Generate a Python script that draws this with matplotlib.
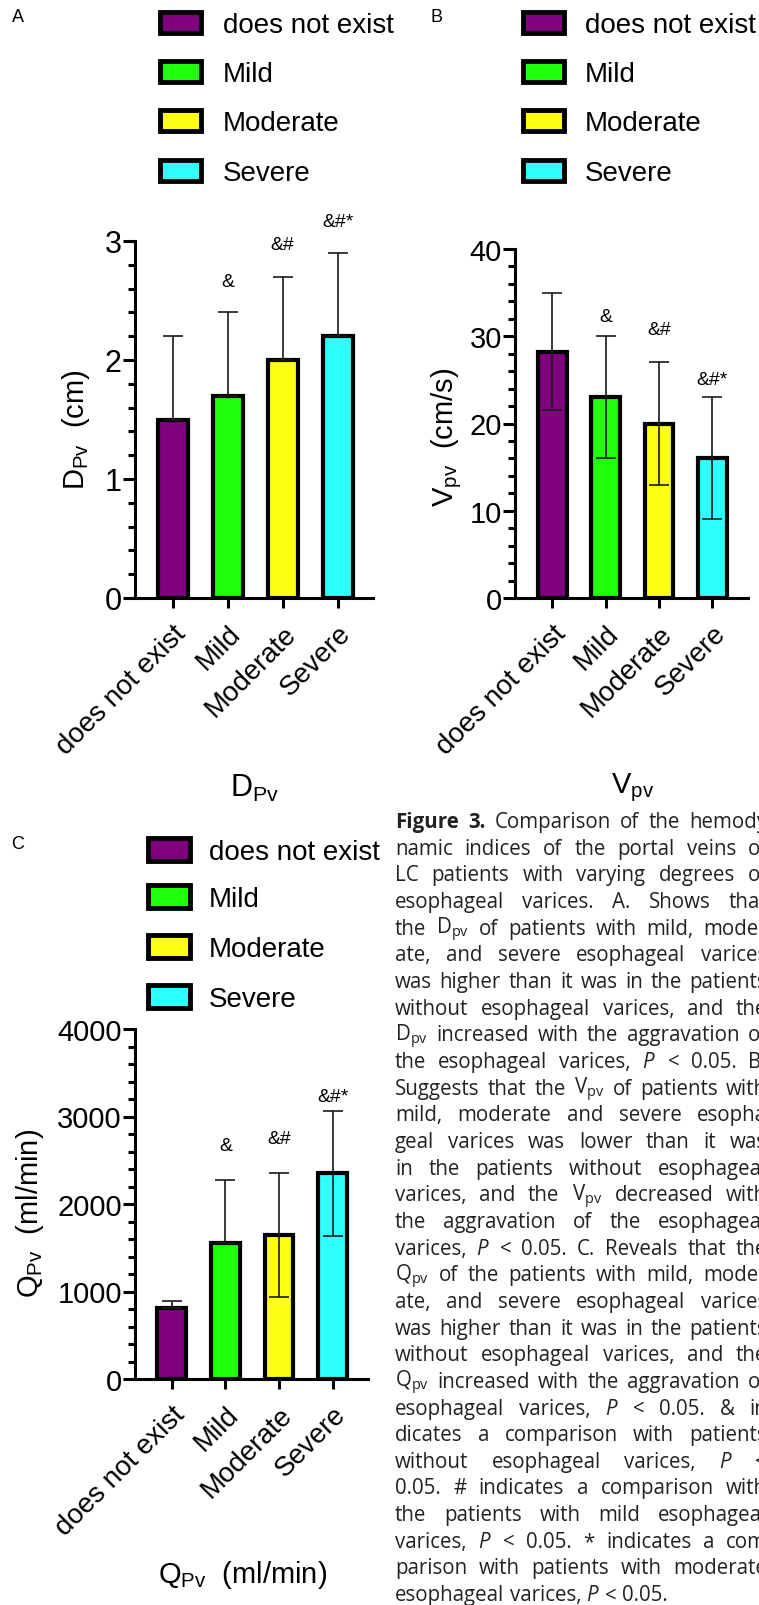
import numpy as np
import matplotlib
matplotlib.use("Agg")
import matplotlib.pyplot as plt
from matplotlib.patches import Rectangle
from matplotlib.ticker import MultipleLocator

W, H, DPI = 759, 1606, 100

plt.rcParams["font.family"] = ["Liberation Sans", "DejaVu Sans"]
plt.rcParams["mathtext.fontset"] = "custom"
plt.rcParams["mathtext.it"] = "Open Sans:italic"
plt.rcParams["mathtext.rm"] = "Open Sans"

# ---- data ----
categories = ["does not exist", "Mild", "Moderate", "Severe"]
bar_colors = ["#800080", "#22ff0e", "#ffff12", "#30ffff"]

# A: portal vein diameter (cm)
dpv_mean = [1.5, 1.7, 2.0, 2.2]
dpv_err_up = [0.7, 0.7, 0.7, 0.7]
dpv_err_down = [0, 0, 0, 0]
dpv_marks = ["", "&", "&#", "&#*"]
dpv_mark_y = [0, 2.66, 2.97, 3.16]

# B: portal vein velocity (cm/s)
vpv_mean = [28.2, 23.0, 20.0, 16.0]
vpv_err_up = [6.7, 7.0, 7.0, 7.0]
vpv_err_down = [6.7, 7.0, 7.0, 7.0]
vpv_marks = ["", "&", "&#", "&#*"]
vpv_mark_y = [0, 32.3, 30.8, 25.1]

# C: portal vein flow (ml/min)
qpv_mean = [810, 1550, 1650, 2350]
qpv_err_up = [80, 720, 710, 710]
qpv_err_down = [0, 0, 710, 710]
qpv_marks = ["", "&", "&#", "&#*"]
qpv_mark_y = [0, 2663, 2743, 3223]

caption_lines = [
    "Figure 3. Comparison of the hemody",
    "namic indices of the portal veins of",
    "LC patients with varying degrees of",
    "esophageal varices. A. Shows that",
    r"the D$_{\mathregular{pv}}$ of patients with mild, moder",
    "ate, and severe esophageal varices",
    "was higher than it was in the patients",
    "without esophageal varices, and the",
    r"D$_{\mathregular{pv}}$ increased with the aggravation of",
    r"the esophageal varices, $\mathit{P}$ < 0.05. B.",
    r"Suggests that the V$_{\mathregular{pv}}$ of patients with",
    "mild, moderate and severe esopha",
    "geal varices was lower than it was",
    "in the patients without esophageal",
    r"varices, and the V$_{\mathregular{pv}}$ decreased with",
    "the aggravation of the esophageal",
    r"varices, $\mathit{P}$ < 0.05. C. Reveals that the",
    r"Q$_{\mathregular{pv}}$ of the patients with mild, moder",
    "ate, and severe esophageal varices",
    "was higher than it was in the patients",
    "without esophageal varices, and the",
    r"Q$_{\mathregular{pv}}$ increased with the aggravation of",
    r"esophageal varices, $\mathit{P}$ < 0.05. & in",
    "dicates a comparison with patients",
    r"without esophageal varices, $\mathit{P}$ <",
    "0.05. # indicates a comparison with",
    "the patients with mild esophageal",
    r"varices, $\mathit{P}$ < 0.05. * indicates a com",
    "parison with patients with moderate",
    r"esophageal varices, $\mathit{P}$ < 0.05.",
]

fig = plt.figure(figsize=(W / DPI, H / DPI), dpi=DPI)


def fx(px):
    return px / W


def fy(py):
    return 1 - py / H


def axes_px(left, top, right, bottom):
    return fig.add_axes([fx(left), fy(bottom), (right - left) / W, (bottom - top) / H])


def draw_panel(ax, means, up, down, marks, mark_y, ymax, major, minor, xlim, tick_fs):
    x = np.arange(len(categories))
    ax.bar(x, means, width=0.54, color=bar_colors, edgecolor="black", linewidth=3.0, zorder=2)
    ax.errorbar(x, means, yerr=[down, up], fmt="none", ecolor="#1a1a1a",
                elinewidth=1.2, capsize=7.5, capthick=1.2, zorder=3)
    for xi, s, yy in zip(x, marks, mark_y):
        if s:
            ax.text(xi, yy, s, ha="center", va="center", fontsize=14, clip_on=False)
    ax.set_xlim(*xlim)
    ax.set_ylim(0, ymax)
    ax.yaxis.set_major_locator(MultipleLocator(major))
    ax.yaxis.set_minor_locator(MultipleLocator(minor))
    ax.set_xticks(x)
    ax.set_xticklabels(categories, rotation=45, ha="right", va="top",
                       rotation_mode="anchor", fontsize=20)
    for side in ["top", "right"]:
        ax.spines[side].set_visible(False)
    for side in ["left", "bottom"]:
        ax.spines[side].set_linewidth(2.2)
    ax.tick_params(axis="y", which="major", length=8.5, width=2.2, labelsize=tick_fs, pad=1)
    ax.tick_params(axis="y", which="minor", length=5, width=2.2)
    ax.tick_params(axis="x", length=7, width=2.2, pad=9)
    ax.patch.set_visible(False)


def draw_legend(box_left, text_left, row_ys, box_w, box_h, fs):
    for cat, col, yy in zip(categories, bar_colors, row_ys):
        fig.add_artist(Rectangle((fx(box_left), fy(yy + box_h / 2)), box_w / W, box_h / H,
                                 transform=fig.transFigure, facecolor=col,
                                 edgecolor="black", linewidth=3.5))
        fig.text(fx(text_left), fy(yy + 0.358 * fs * DPI / 72), cat,
                 ha="left", va="baseline", fontsize=fs)


# panel A
axA = axes_px(135, 242, 373, 599)
draw_panel(axA, dpv_mean, dpv_err_up, dpv_err_down, dpv_marks, dpv_mark_y,
           3, 1, 0.2, (-0.684, 3.64), 22)
fig.text(fx(76), fy(430), r"D$_{\mathregular{Pv}}$  (cm)", rotation=90,
         ha="center", va="center", fontsize=21)
fig.text(fx(255), fy(797), r"D$_{\mathregular{Pv}}$", ha="center", va="baseline", fontsize=22)

# panel B
axB = axes_px(515, 250, 748, 599)
draw_panel(axB, vpv_mean, vpv_err_up, vpv_err_down, vpv_marks, vpv_mark_y,
           40, 10, 2, (-0.70, 3.67), 21)
fig.text(fx(447), fy(437), r"V$_{\mathregular{pv}}$  (cm/s)", rotation=90,
         ha="center", va="center", fontsize=21)
fig.text(fx(633), fy(793), r"V$_{\mathregular{pv}}$", ha="center", va="baseline", fontsize=21)

# panel C
axC = axes_px(135, 1030, 368, 1380)
draw_panel(axC, qpv_mean, qpv_err_up, qpv_err_down, qpv_marks, qpv_mark_y,
           4000, 1000, 200, (-0.685, 3.66), 21)
fig.text(fx(30), fy(1213), r"Q$_{\mathregular{Pv}}$  (ml/min)", rotation=90,
         ha="center", va="center", fontsize=21)
fig.text(fx(243), fy(1583), r"Q$_{\mathregular{Pv}}$  (ml/min)", ha="center", va="baseline", fontsize=21)

# legends and panel letters
draw_legend(160, 223, [23, 72, 121, 171], 41, 21, 20)
draw_legend(523, 585, [23, 72, 121, 171], 41, 21, 20)
draw_legend(148, 209, [850, 897, 947, 997], 42, 23, 20)
fig.text(fx(18), fy(17), "A", ha="center", va="center", fontsize=13)
fig.text(fx(436), fy(17), "B", ha="center", va="center", fontsize=13)
fig.text(fx(18), fy(845), "C", ha="center", va="center", fontsize=13)

# caption, justified and running off the right edge like the source page
renderer = fig.canvas.get_renderer()
cap_fs = 14.8
cap_left, cap_right = 395, 767
cap_base0, cap_step = 828, 26.66
space_px = 0.26 * cap_fs * DPI / 72
for i, line in enumerate(caption_lines):
    words = line.split(" ")
    arts = []
    for j, w in enumerate(words):
        bold = i == 0 and j < 2
        arts.append(fig.text(0, 0, w, fontsize=cap_fs, family=["Open Sans", "DejaVu Sans"],
                             fontweight="bold" if bold else "normal", color="#222222",
                             ha="left", va="baseline"))
    widths = [a.get_window_extent(renderer).width for a in arts]
    if i < len(caption_lines) - 1 and len(words) > 1:
        gap = (cap_right - cap_left - sum(widths)) / (len(words) - 1)
        gap = max(gap, 0.3 * space_px)
    else:
        gap = space_px
    xpos = cap_left
    ybase = cap_base0 + i * cap_step
    for a, w in zip(arts, widths):
        a.set_position((fx(xpos), fy(ybase)))
        xpos += w + gap

fig.savefig("out.png", dpi=DPI)
